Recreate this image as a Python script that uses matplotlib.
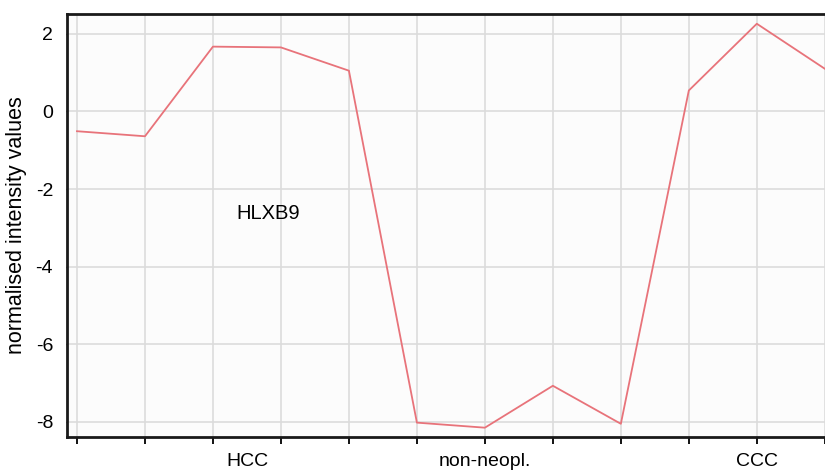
# HLXB9 expression profile: line plot with matplotlib

import numpy as np
import matplotlib.pyplot as plt

plt.rcParams['font.family'] = ['Liberation Sans', 'DejaVu Sans']

# values
samples = np.arange(12)
hlxb9 = [-0.51, -0.64, 1.67, 1.65, 1.05, -8.02, -8.15, -7.07, -8.05, 0.54, 2.26, 1.10]
groups = ['HCC', 'non-neopl.', 'CCC']
group_centres = [2.5, 6.0, 10.0]
yticks = [2, 0, -2, -4, -6, -8]

fig = plt.figure(figsize=(8.25, 4.71), dpi=100)
# axes runs past the right edge of the figure, like the cropped original
ax = fig.add_axes([0.0812, 0.0722, 0.968, 0.898])
ax.set_facecolor('#fcfcfc')

ax.plot(samples, hlxb9, color='#e8737a', linewidth=1.3, zorder=3)

ax.set_xlim(-0.147, 11.6)
ax.set_ylim(-8.39, 2.51)
ax.set_xticks(samples)
ax.set_xticklabels([])
ax.set_yticks(yticks)
ax.set_yticklabels([str(t) for t in yticks], fontsize=14)
ax.grid(True, color='#dcdcdc', linewidth=1.2)
ax.set_axisbelow(True)

ax.tick_params(axis='x', direction='out', length=5, width=1.3, color='black')
ax.tick_params(axis='y', direction='out', length=1, width=1, color='#333333', pad=9)

for side in ['left', 'top', 'bottom']:
    ax.spines[side].set_linewidth(2)
    ax.spines[side].set_color('#1a1a1a')
ax.spines['right'].set_visible(False)

# group labels under the axis
for name, pos in zip(groups, group_centres):
    ax.text(pos, -0.057, name, transform=ax.get_xaxis_transform(),
            ha='center', va='center', fontsize=14)

ax.text(2.34, -2.62, 'HLXB9', fontsize=14.5, ha='left', va='center')
ax.set_ylabel('normalised intensity values', fontsize=15.5, labelpad=6)

plt.savefig('out.png', dpi=100)
